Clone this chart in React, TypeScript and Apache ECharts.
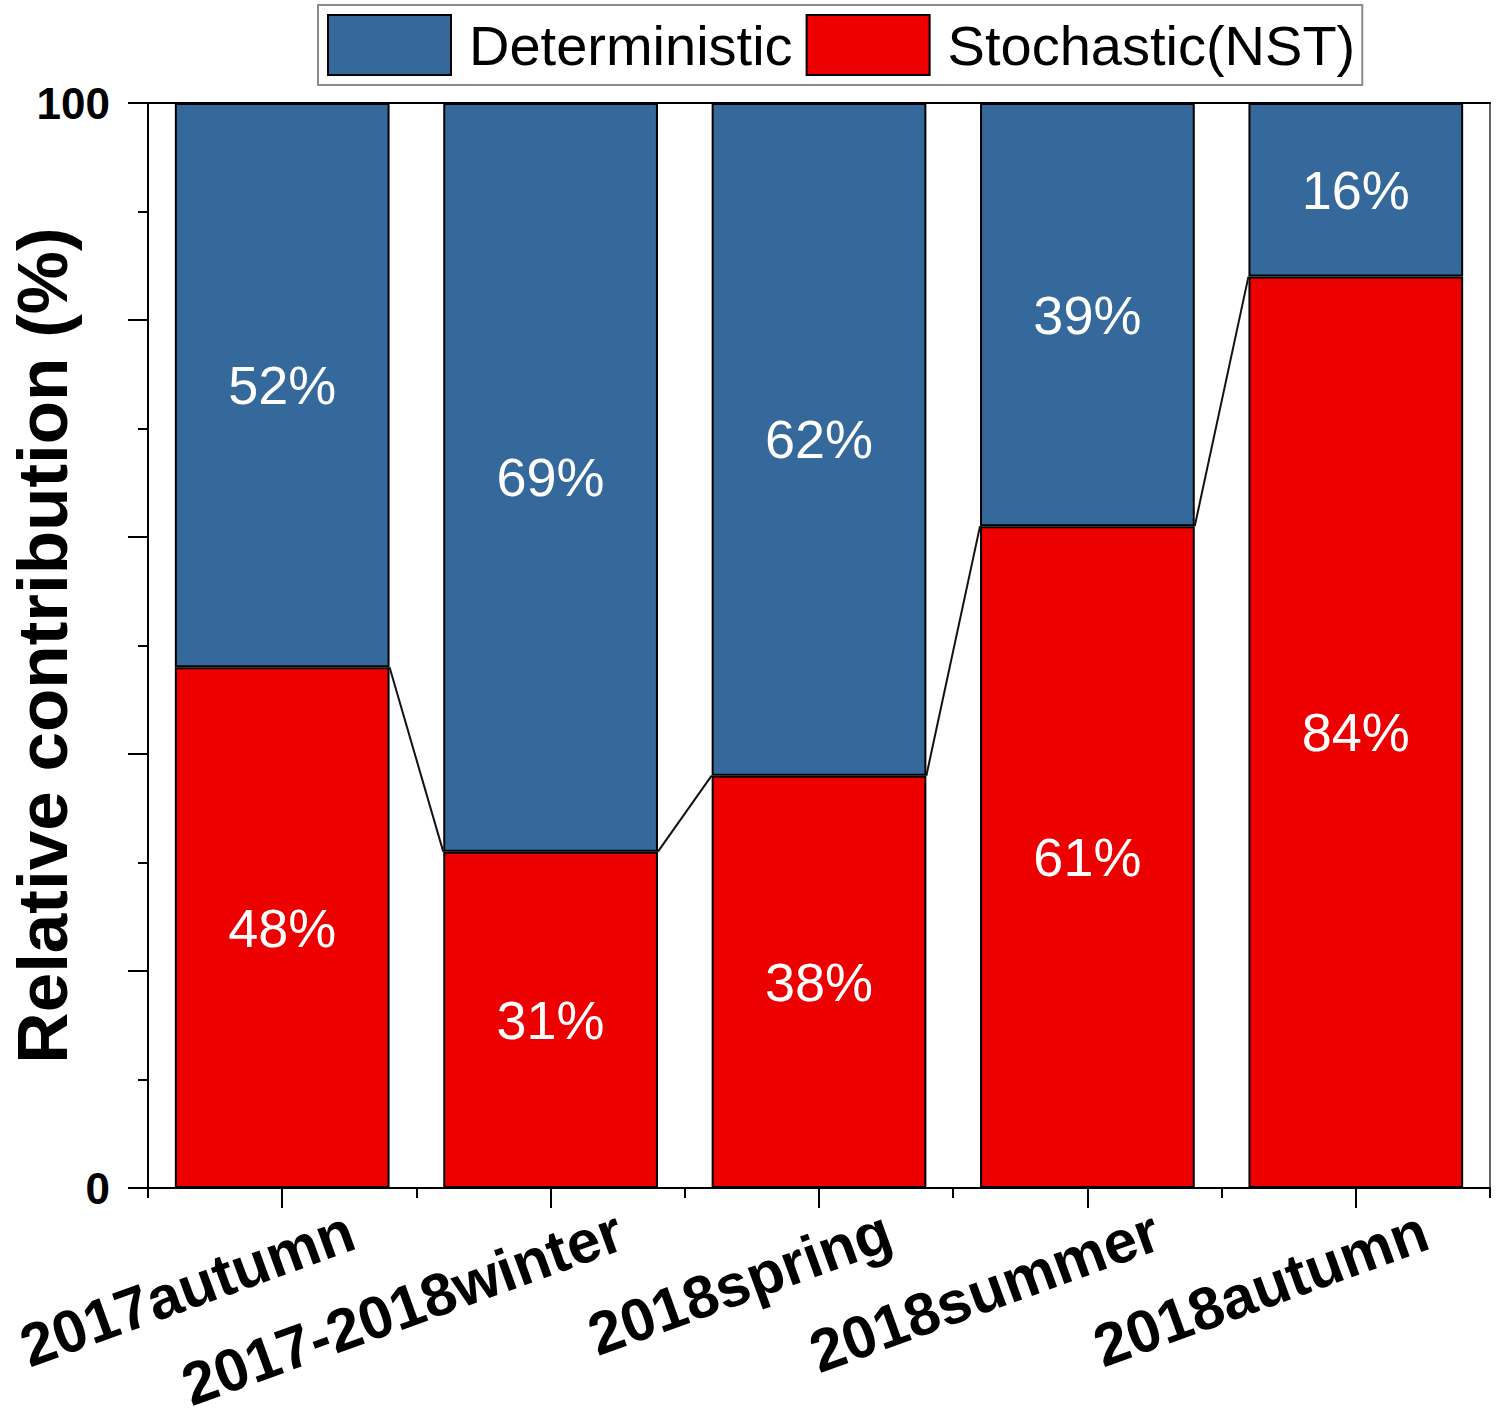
import React, { useEffect, useRef } from "react";
import * as echarts from "echarts";

const categories = ["2017autumn", "2017-2018winter", "2018spring", "2018summer", "2018autumn"];
const stochastic = [48, 31, 38, 61, 84];
const deterministic = [52, 69, 62, 39, 16];
const yTickLabels = [0, 100];

const FONT = "Arial, 'Liberation Sans', sans-serif";
const BLUE = "#35689B";
const RED = "#EC0000";

export default function App() {
  const ref = useRef<HTMLDivElement>(null);
  useEffect(() => {
    document.body.style.margin = "0";
    if (!ref.current) return;
    const chart = echarts.init(ref.current, null, { renderer: "svg" });
    const linkData = stochastic.slice(0, -1).map((v, i) => [i, v, stochastic[i + 1]]);
    chart.setOption({
      animation: false,
      backgroundColor: "#fff",
      textStyle: { fontFamily: FONT },
      legend: {
        data: ["Deterministic", "Stochastic(NST)"],
        left: 318,
        top: 5,
        orient: "horizontal",
        padding: [9, 7, 9, 9],
        borderColor: "#8a8a8a",
        borderWidth: 2,
        itemWidth: 123,
        itemHeight: 60,
        itemGap: 13,
        icon: "rect",
        textStyle: { fontSize: 56, color: "#000", fontFamily: FONT, padding: [0, 0, 0, 13] },
      },
      grid: { left: 148, right: 10, top: 103, bottom: 233, containLabel: false, outerBoundsMode: "none" },
      xAxis: [
        {
          type: "category",
          data: categories,
          position: "bottom",
          axisLine: { show: true, lineStyle: { color: "#000", width: 2 } },
          axisTick: { show: true, alignWithLabel: true, length: 20, lineStyle: { color: "#000", width: 2 } },
          axisLabel: {
            rotate: 20,
            interval: 0,
            margin: 66,
            fontSize: 60,
            fontWeight: "bold",
            color: "#000",
            fontFamily: FONT,
            padding: [0, -74, 0, 0],
          },
          splitLine: { show: false },
        },
        {
          type: "category",
          data: categories,
          position: "bottom",
          axisLine: { show: false },
          axisTick: { show: true, length: 10, lineStyle: { color: "#000", width: 2 } },
          axisLabel: { show: false },
          splitLine: { show: false },
        },
        {
          type: "category",
          data: categories,
          position: "top",
          axisLine: { show: true, lineStyle: { color: "#000", width: 2 } },
          axisTick: { show: false },
          axisLabel: { show: false },
          splitLine: { show: false },
        },
      ],
      yAxis: [
        {
          type: "value",
          min: 0,
          max: 100,
          interval: 20,
          name: "Relative contribution (%)",
          nameLocation: "middle",
          nameGap: 70,
          nameMoveOverlap: false,
          nameTextStyle: { fontSize: 71, fontWeight: "bold", color: "#000", fontFamily: FONT },
          axisLine: { show: true, lineStyle: { color: "#000", width: 2 } },
          axisTick: { show: true, length: 20, lineStyle: { color: "#000", width: 2 } },
          minorTick: { show: true, splitNumber: 2, length: 10, lineStyle: { color: "#000", width: 2 } },
          axisLabel: {
            margin: 38,
            fontSize: 44,
            fontWeight: "bold",
            color: "#000",
            fontFamily: FONT,
            formatter: (v: number) => (yTickLabels.includes(v) ? String(v) : ""),
          },
          splitLine: { show: false },
        },
        {
          type: "value",
          min: 0,
          max: 100,
          position: "right",
          axisLine: { show: true, lineStyle: { color: "#666", width: 2 } },
          axisTick: { show: false },
          axisLabel: { show: false },
          splitLine: { show: false },
        },
      ],
      series: [
        {
          name: "Stochastic(NST)",
          type: "bar",
          stack: "total",
          data: stochastic,
          barCategoryGap: "20%",
          itemStyle: { color: RED, borderColor: "#000", borderWidth: 2 },
          label: {
            show: true,
            position: "inside",
            formatter: "{c}%",
            color: "#fff",
            fontSize: 54,
            fontFamily: FONT,
          },
        },
        {
          name: "Deterministic",
          type: "bar",
          stack: "total",
          data: deterministic,
          barCategoryGap: "20%",
          itemStyle: { color: BLUE, borderColor: "#000", borderWidth: 2 },
          label: {
            show: true,
            position: "inside",
            formatter: "{c}%",
            color: "#fff",
            fontSize: 54,
            fontFamily: FONT,
          },
        },
        {
          name: "link",
          type: "custom",
          z: 5,
          data: linkData,
          encode: { x: 0, y: 1 },
          renderItem: (params: any, api: any) => {
            const i = api.value(0);
            const p1 = api.coord([i, api.value(1)]);
            const p2 = api.coord([i + 1, api.value(2)]);
            const half = (api.size([1, 0])[0] * 0.8) / 2;
            return {
              type: "line",
              shape: { x1: p1[0] + half, y1: p1[1], x2: p2[0] - half, y2: p2[1] },
              style: { stroke: "#111", lineWidth: 2 },
            };
          },
        },
      ],
    });
    return () => chart.dispose();
  }, []);
  return <div ref={ref} style={{ width: 1500, height: 1421 }} />;
}
